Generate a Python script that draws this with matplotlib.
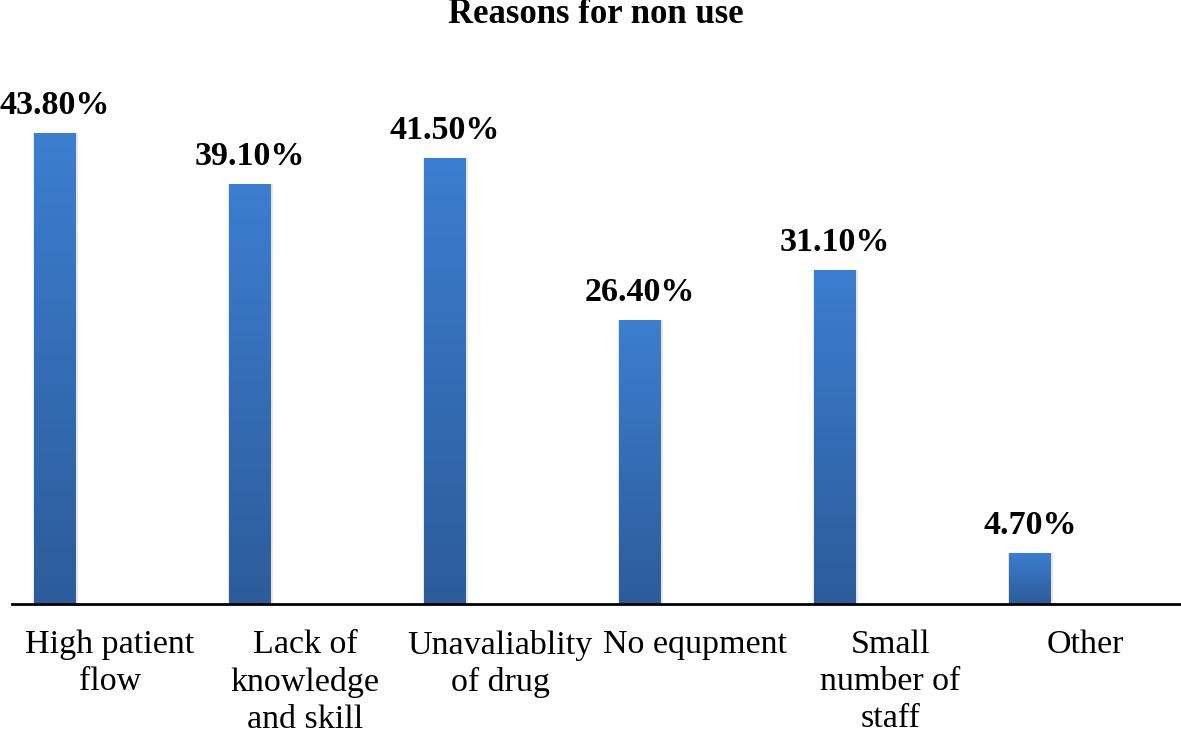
import numpy as np
import matplotlib.pyplot as plt
from matplotlib.colors import LinearSegmentedColormap

categories = ["High patient\nflow", "Lack of\nknowledge\nand skill", "Unavaliablity\nof drug",
              "No equpment", "Small\nnumber of\nstaff", "Other"]
values = [43.8, 39.1, 41.5, 26.4, 31.1, 4.7]
labels = ["43.80%", "39.10%", "41.50%", "26.40%", "31.10%", "4.70%"]

plt.rcParams['font.family'] = ['Liberation Serif', 'DejaVu Serif']

fig = plt.figure(figsize=(11.81, 7.37), dpi=100)
ax = fig.add_axes([12 / 1181, 133 / 737, 1 - 12 / 1181, 1 - 133 / 737 - 60 / 737])

x = np.arange(len(values))
bars = ax.bar(x, values, width=0.215, color='none', edgecolor='none', zorder=2)

cmap = LinearSegmentedColormap.from_list('bar', ['#2c5c9a', '#3c7ed0'])
grad = np.linspace(0, 1, 256).reshape(-1, 1)
for b in bars:
    x0, y0 = b.get_x(), b.get_y()
    w, h = b.get_width(), b.get_height()
    # soft shadow
    ax.bar(x0 + w / 2 + 0.003, h, width=w + 0.018, bottom=0, color='#e6e6e6', zorder=1, edgecolor='none')
    im = ax.imshow(grad, cmap=cmap, origin='lower', aspect='auto',
                   extent=(x0, x0 + w, y0, y0 + h), zorder=3)
    im.set_clip_path(b)

for xi, v, lab in zip(x, values, labels):
    ax.annotate(lab, (xi, v), xytext=(0, 13.7), textcoords='offset points',
                ha='center', va='baseline', fontsize=24.5, fontweight='bold')

ax.set_xlim(-0.22, 5.774)
ax.set_ylim(0, 50.6)
# category labels sit to the right of the bars (empty second slot in the cluster)
ax.set_xticks(x + 0.282)
ax.set_xticklabels(categories, fontsize=24.5, linespacing=1.27)
ax.tick_params(axis='x', length=0, pad=18.5)
ax.set_yticks([])
for s in ['top', 'right', 'left']:
    ax.spines[s].set_visible(False)
ax.spines['bottom'].set_linewidth(2)
ax.spines['bottom'].set_zorder(4)

fig.text(596 / 1181, 1 - 23 / 737, "Reasons for non use", ha='center', va='baseline',
         fontsize=25, fontweight='bold')

fig.savefig("out.png", dpi=100)
